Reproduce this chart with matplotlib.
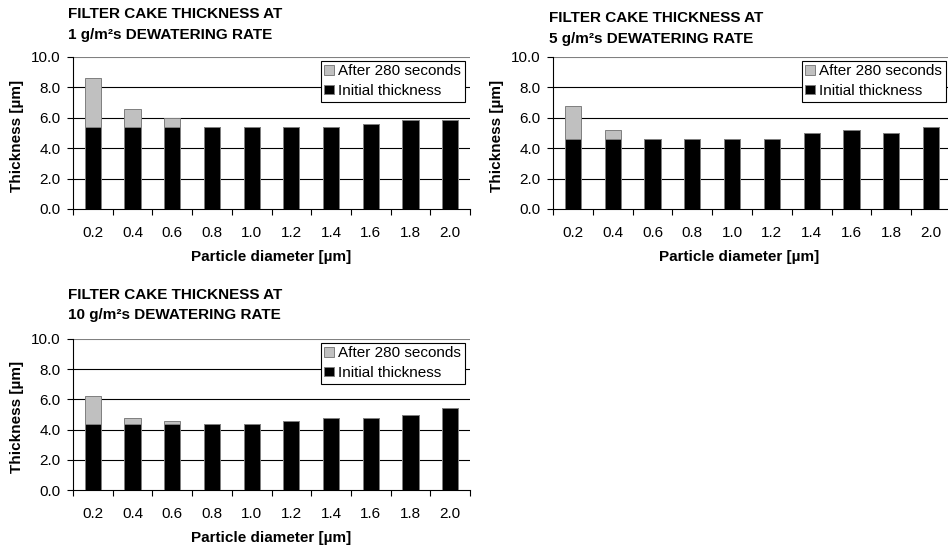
import matplotlib
matplotlib.use("Agg")
import matplotlib.pyplot as plt
import numpy as np

plt.rcParams['font.family'] = ['Liberation Sans', 'DejaVu Sans']

diameters = ["0.2", "0.4", "0.6", "0.8", "1.0", "1.2", "1.4", "1.6", "1.8", "2.0"]

initial_1 = [5.4, 5.4, 5.4, 5.4, 5.4, 5.4, 5.4, 5.6, 5.85, 5.85]
after_1 = [8.6, 6.6, 6.0, 5.4, 5.4, 5.4, 5.4, 5.6, 5.85, 5.85]

initial_5 = [4.6, 4.6, 4.6, 4.6, 4.6, 4.6, 5.0, 5.2, 5.0, 5.4]
after_5 = [6.8, 5.2, 4.6, 4.6, 4.6, 4.6, 5.0, 5.2, 5.0, 5.4]

initial_10 = [4.4, 4.4, 4.4, 4.4, 4.4, 4.6, 4.8, 4.8, 5.0, 5.4]
after_10 = [6.2, 4.8, 4.55, 4.4, 4.4, 4.6, 4.8, 4.8, 5.0, 5.4]

rates = ["1", "5", "10"]
yticks = [0.0, 2.0, 4.0, 6.0, 8.0, 10.0]

W, H = 948, 550
fig = plt.figure(figsize=(9.48, 5.5), dpi=100)

def fx(px):
    return px / W

def fy(py):
    return 1 - py / H

panels = [
    dict(rect=(73, 57, 397, 152), init=initial_1, after=after_1, rate=rates[0],
         title_xy=(68, 14.5, 34.5), ylab_xy=(17, 136), xlab_xy=(271, 257)),
    dict(rect=(553, 57, 398, 152), init=initial_5, after=after_5, rate=rates[1],
         title_xy=(549, 18.5, 39), ylab_xy=(497, 136), xlab_xy=(739, 257)),
    dict(rect=(73, 339, 397, 151), init=initial_10, after=after_10, rate=rates[2],
         title_xy=(68, 295, 315), ylab_xy=(17, 417), xlab_xy=(271, 538)),
]

edge = '#7f7f7f'
gray = '#c0c0c0'
FS = 11

for p in panels:
    l, t, w, h = p['rect']
    ax = fig.add_axes([fx(l), fy(t + h), w / W, h / H])
    x = np.arange(len(diameters))
    init = np.array(p['init'])
    after = np.array(p['after'])
    extra = after - init
    ax.bar(x, init, width=0.41, color='black', edgecolor=edge, linewidth=0.7,
           label='Initial thickness', zorder=3)
    ax.bar(x, extra, bottom=init, width=0.41, color=gray, edgecolor=edge,
           linewidth=0.7, label='After 280 seconds', zorder=3)
    ax.set_xlim(-0.5, len(diameters) - 0.5)
    ax.set_ylim(0, 10)
    ax.set_yticks(yticks)
    ax.set_yticklabels([f"{v:.1f}" for v in yticks], fontsize=FS)
    ax.set_xticks(np.arange(len(diameters) + 1) - 0.5)
    ax.set_xticklabels([])
    ax.set_xticks(x, minor=True)
    ax.set_xticklabels(diameters, minor=True, fontsize=FS)
    ax.tick_params(axis='x', which='major', direction='out', length=4, width=0.8,
                   color='black')
    ax.tick_params(axis='x', which='minor', length=0, pad=12)
    ax.tick_params(axis='y', direction='out', length=4, width=0.8, pad=5)
    ax.set_axisbelow(True)
    ax.grid(axis='y', color='black', linewidth=0.8)
    gl = ax.yaxis.get_gridlines()
    gl[0].set_visible(False)
    gl[-1].set_color('#808080')
    ax.spines['right'].set_visible(False)
    ax.spines['top'].set_visible(False)
    ax.spines['left'].set_linewidth(0.8)
    ax.spines['bottom'].set_linewidth(0.8)
    handles, labels = ax.get_legend_handles_labels()
    leg = ax.legend(handles[::-1], labels[::-1], loc='upper right',
                    bbox_to_anchor=(0.987, 0.976), borderaxespad=0,
                    fontsize=FS, frameon=True, fancybox=False, framealpha=1,
                    edgecolor='black', handlelength=0.6, handleheight=0.6,
                    handletextpad=0.3, labelspacing=0.35, borderpad=0.25)
    leg.get_frame().set_linewidth(0.8)
    leg.set_zorder(5)

    tx, ty1, ty2 = p['title_xy']
    fig.text(fx(tx), fy(ty1), "FILTER CAKE THICKNESS AT", fontsize=FS,
             fontweight='bold', ha='left', va='center')
    fig.text(fx(tx), fy(ty2), f"{p['rate']} g/m²s DEWATERING RATE", fontsize=FS,
             fontweight='bold', ha='left', va='center')
    yx, yy = p['ylab_xy']
    fig.text(fx(yx), fy(yy), "Thickness [µm]", fontsize=FS, fontweight='bold',
             rotation=90, ha='center', va='center')
    xx, xy = p['xlab_xy']
    fig.text(fx(xx), fy(xy), "Particle diameter [µm]", fontsize=FS,
             fontweight='bold', ha='center', va='center')

fig.savefig("out.png", dpi=100)
